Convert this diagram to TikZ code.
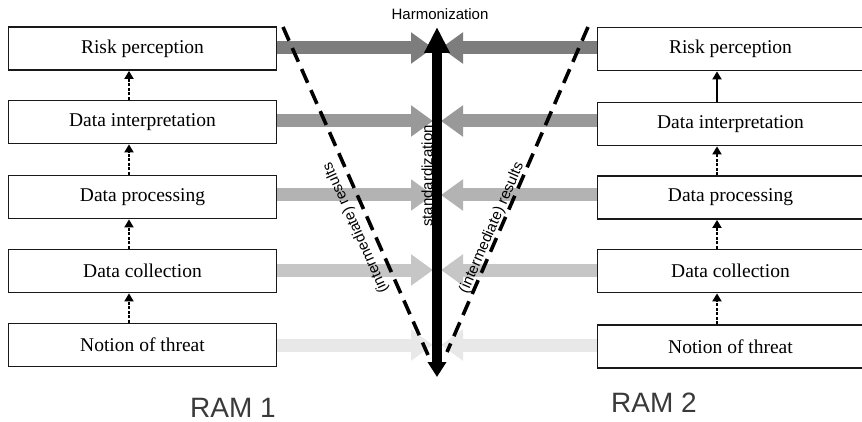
\documentclass[tikz,border=0pt]{standalone}
\usepackage{fontspec}
\setmainfont{Liberation Serif}
\newfontfamily\sansf{Liberation Sans}
\usetikzlibrary{arrows.meta}
\definecolor{gA}{HTML}{7D7D7D}
\definecolor{gB}{HTML}{999999}
\definecolor{gC}{HTML}{B3B3B3}
\definecolor{gD}{HTML}{C6C6C6}
\definecolor{gE}{HTML}{E8E8E8}
\definecolor{ramc}{HTML}{3A3A3A}
\begin{document}
\begin{tikzpicture}[x=1pt,y=-1pt,
  box/.style={draw=black!90, line width=1.8pt, minimum height=43pt, inner sep=0pt, font=\fontsize{19.5}{22}\selectfont},
  lbox/.style={box, minimum width=268pt},
  rbox/.style={box, minimum width=266pt},
  band/.style={line width=13pt, -{Triangle[length=22pt,width=30pt]}},
  upar/.style={line width=1.8pt, -{Triangle[length=8pt,width=9pt]}},
  updash/.style={upar, dash pattern=on 3pt off 1.5pt},
  vline/.style={line width=3.6pt, dash pattern=on 15pt off 8pt},
  lab/.style={font=\sansf\fontsize{15}{17}\selectfont, inner sep=0pt},
  ram/.style={font=\sansf\fontsize{28}{30}\selectfont, text=ramc, inner sep=0pt}
]
\clip (0,0) rectangle (862,422);
\fill[white] (0,0) rectangle (862,422);

% boxes
\node[lbox] (L1) at (142.5,48.5) {Risk perception};
\node[lbox] (L2) at (142.5,122) {Data interpretation};
\node[lbox] (L3) at (142.5,197) {Data processing};
\node[lbox] (L4) at (142.5,271) {Data collection};
\node[lbox] (L5) at (142.5,345) {Notion of threat};
\node[rbox] (R1) at (730.5,49) {Risk perception};
\node[rbox] (R2) at (730.5,124) {Data interpretation};
\node[rbox] (R3) at (730.5,197.5) {Data processing};
\node[rbox] (R4) at (730.5,271) {Data collection};
\node[rbox] (R5) at (730.5,346.5) {Notion of threat};

% row coordinates
\coordinate (r1) at (437,48);
\coordinate (r2) at (437,121);
\coordinate (r3) at (437,195);
\coordinate (r4) at (437,270);
\coordinate (r5) at (437,345);

% gray arrows
\draw[band, gA] (L1.east |- r1) -- ([xshift=-4pt]r1);
\draw[band, gB] (L2.east |- r2) -- ([xshift=-4pt]r2);
\draw[band, gC] (L3.east |- r3) -- ([xshift=-4pt]r3);
\draw[band, gD] (L4.east |- r4) -- ([xshift=-4pt]r4);
\draw[band, gE] (L5.east |- r5) -- ([xshift=-4pt]r5);
\draw[band, gA] (R1.west |- r1) -- ([xshift=4pt]r1);
\draw[band, gB] (R2.west |- r2) -- ([xshift=4pt]r2);
\draw[band, gC] (R3.west |- r3) -- ([xshift=4pt]r3);
\draw[band, gD] (R4.west |- r4) -- ([xshift=4pt]r4);
\draw[band, gE] (R5.west |- r5) -- ([xshift=4pt]r5);

% dashed V
\coordinate (vl1) at (283,27);
\coordinate (vl2) at (428,355);
\coordinate (vr1) at (588,27);
\coordinate (vr2) at (447,352);
\draw[vline] (vl1) -- (vl2);
\draw[vline] (vr1) -- (vr2);

% black vertical arrow
\coordinate (top) at (437,27);
\coordinate (bot) at (437,377);
\draw[line width=10pt, {Triangle[length=15pt,width=18pt]}-{Triangle[length=26pt,width=24pt]}] (bot) -- (top);

% labels
\node[lab] (harm) at (440,14) {Harmonization};
\node[lab, rotate=90] (std) at (427,176) {standardization};
\node[lab, rotate=114] (labL) at (356,228) {(intermediate) results};
\node[lab, rotate=66.5] (labR) at (492,228) {(intermediate) results};

% small vertical arrows
\coordinate (ax) at (129,0);
\coordinate (bx) at (717,0);
\draw[updash] (L2.north -| ax) -- (L1.south -| ax);
\draw[updash] (L3.north -| ax) -- (L2.south -| ax);
\draw[updash] (L4.north -| ax) -- (L3.south -| ax);
\draw[updash] (L5.north -| ax) -- (L4.south -| ax);
\draw[upar] (R2.north -| bx) -- (R1.south -| bx);
\draw[updash] (R3.north -| bx) -- (R2.south -| bx);
\draw[updash] (R4.north -| bx) -- (R3.south -| bx);
\draw[updash] (R5.north -| bx) -- (R4.south -| bx);

% RAM labels
\node[ram] (ram1) at (233,408) {RAM 1};
\node[ram] (ram2) at (654,403) {RAM 2};
\end{tikzpicture}
\end{document}
